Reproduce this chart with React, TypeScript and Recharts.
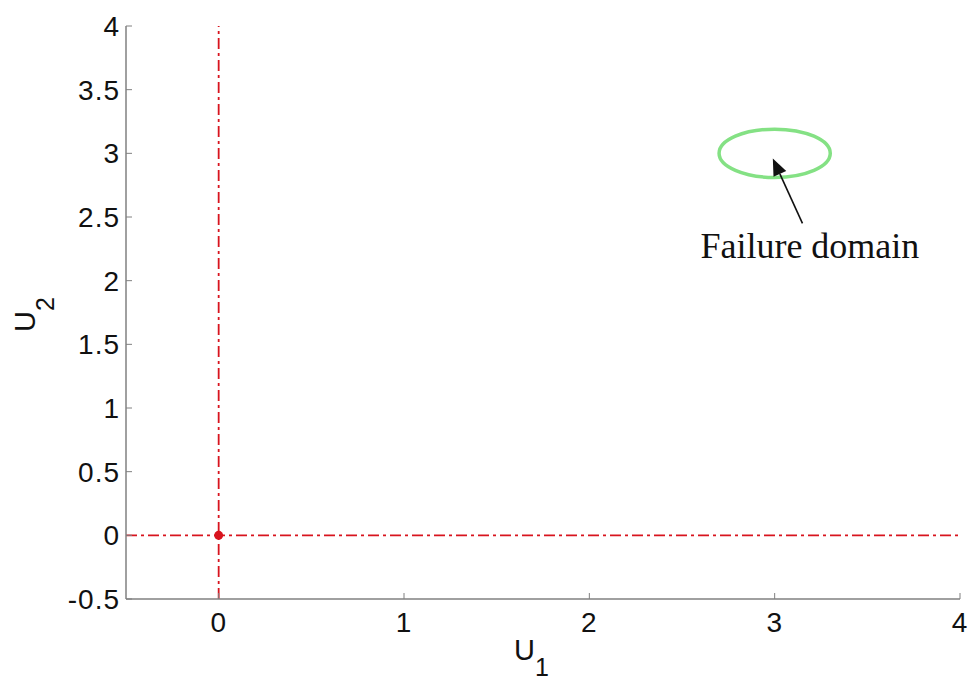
import {
  ScatterChart,
  Scatter,
  XAxis,
  YAxis,
  ReferenceLine,
  ReferenceArea,
  ReferenceDot,
} from "recharts";

// axis ranges and ticks
const uRange: Array<number> = [-0.5, 4];
const u1Ticks: Array<number> = [0, 1, 2, 3, 4];
const u2Ticks: Array<number> = [-0.5, 0, 0.5, 1, 1.5, 2, 2.5, 3, 3.5, 4];

// origin of the standard normal space
const origin = [{ x: 0, y: 0 }];

// failure domain: ellipse centre and half-widths
const failureCenter: Array<number> = [3, 3];
const failureHalf: Array<number> = [0.3, 0.19];

// annotation arrow (tail -> tip) and its caption
const arrowFrom = { x: 3.15, y: 2.45 };
const arrowTo = { x: 2.99, y: 2.96 };
const captionAt = { x: 3.19, y: 2.18 };
const captionText = "Failure domain";

const boxColor = "#808080";
const axisRed = "#d8141e";
const tickFont = "Arial, 'Liberation Sans', Helvetica, sans-serif";

const BottomTick = (props: any) => {
  const { x, y, payload } = props;
  return (
    <g>
      <line x1={x} x2={x} y1={y} y2={y - 6} stroke={boxColor} />
      <text
        x={x}
        y={y + 33}
        textAnchor="middle"
        fontSize={28}
        letterSpacing={1}
        fontFamily={tickFont}
        fill="#111"
      >
        {String(payload.value)}
      </text>
    </g>
  );
};

const LeftTick = (props: any) => {
  const { x, y, payload } = props;
  return (
    <g>
      <line x1={x} x2={x + 6} y1={y} y2={y} stroke={boxColor} />
      <text
        x={x - 6}
        y={y + 10}
        textAnchor="end"
        fontSize={28}
        letterSpacing={1}
        fontFamily={tickFont}
        fill="#111"
      >
        {String(payload.value)}
      </text>
    </g>
  );
};

const TopTick = (props: any) => {
  const { x, y } = props;
  return <line x1={x} x2={x} y1={y} y2={y + 6} stroke={boxColor} />;
};

const RightTick = (props: any) => {
  const { x, y } = props;
  return <line x1={x} x2={x - 6} y1={y} y2={y} stroke={boxColor} />;
};

const U1Label = (props: any) => {
  const vb = props.viewBox;
  return (
    <text
      x={vb.x + vb.width / 2 - 29}
      y={vb.y + 61}
      fontSize={29}
      fontFamily={tickFont}
      fill="#111"
    >
      U
      <tspan dy={16} fontSize={25}>
        1
      </tspan>
    </text>
  );
};

const U2Label = () => (
  <text
    x={35}
    y={332}
    transform="rotate(-90, 35, 332)"
    fontSize={29}
    fontFamily={tickFont}
    fill="#111"
  >
    U
    <tspan dy={19} fontSize={25}>
      2
    </tspan>
  </text>
);

const FailureEllipse = (props: any) => {
  const { x, y, width, height } = props;
  return (
    <ellipse
      cx={x + width / 2}
      cy={y + height / 2}
      rx={Math.abs(width) / 2}
      ry={Math.abs(height) / 2}
      fill="none"
      stroke="#84e184"
      strokeWidth={3.5}
    />
  );
};

const Arrow = (props: any) => {
  const { x1, y1, x2, y2 } = props;
  const ang = Math.atan2(y2 - y1, x2 - x1);
  const len = 17;
  const half = 7;
  const bx = x2 - len * Math.cos(ang);
  const by = y2 - len * Math.sin(ang);
  const px = -Math.sin(ang) * half;
  const py = Math.cos(ang) * half;
  return (
    <g>
      <line x1={x1} y1={y1} x2={bx} y2={by} stroke="#111" strokeWidth={1.6} />
      <polygon
        points={`${x2},${y2} ${bx + px},${by + py} ${bx - px},${by - py}`}
        fill="#111"
      />
    </g>
  );
};

const Caption = (props: any) => {
  const { cx, cy } = props;
  return (
    <text
      x={cx}
      y={cy}
      textAnchor="middle"
      fontSize={36}
      fontFamily="'Liberation Serif', 'Times New Roman', serif"
      fill="#111"
    >
      {captionText}
    </text>
  );
};

const OriginDot = (props: any) => {
  const { cx, cy } = props;
  return <circle cx={cx} cy={cy} r={4.5} fill={axisRed} />;
};

const App = () => {
  return (
    <div style={{ position: "absolute", left: 0, top: 0, background: "#fff" }}>
      <ScatterChart
        width={969}
        height={683}
        margin={{ top: 26, right: 9, bottom: 0, left: 0 }}
      >
        <XAxis
          dataKey="x"
          type="number"
          domain={uRange}
          ticks={u1Ticks}
          allowDataOverflow
          height={84}
          interval={0}
          tickSize={0}
          tickMargin={0}
          tickLine={false}
          stroke={boxColor}
          strokeWidth={1.5}
          tick={<BottomTick />}
          label={{ content: <U1Label /> }}
        />
        <XAxis
          xAxisId="top"
          orientation="top"
          type="number"
          domain={uRange}
          ticks={u1Ticks}
          allowDataOverflow
          height={0}
          interval={0}
          tickSize={0}
          tickMargin={0}
          tickLine={false}
          stroke={boxColor}
          strokeWidth={1.5}
          tick={<TopTick />}
        />
        <YAxis
          dataKey="y"
          type="number"
          domain={uRange}
          ticks={u2Ticks}
          allowDataOverflow
          width={126}
          interval={0}
          tickSize={0}
          tickMargin={0}
          tickLine={false}
          stroke={boxColor}
          strokeWidth={1.5}
          tick={<LeftTick />}
          label={{ content: <U2Label /> }}
        />
        <YAxis
          yAxisId="right"
          orientation="right"
          type="number"
          domain={uRange}
          ticks={u2Ticks}
          allowDataOverflow
          width={0}
          interval={0}
          tickSize={0}
          tickMargin={0}
          tickLine={false}
          stroke={boxColor}
          strokeWidth={1.5}
          tick={<RightTick />}
        />

        <ReferenceLine
          x={0}
          stroke={axisRed}
          strokeWidth={1.8}
          strokeDasharray="11 4 3 4"
        />
        <ReferenceLine
          y={0}
          stroke={axisRed}
          strokeWidth={1.8}
          strokeDasharray="11 4 3 4"
        />

        <ReferenceArea
          x1={failureCenter[0] - failureHalf[0]}
          x2={failureCenter[0] + failureHalf[0]}
          y1={failureCenter[1] - failureHalf[1]}
          y2={failureCenter[1] + failureHalf[1]}
          shape={<FailureEllipse />}
        />

        <ReferenceLine
          segment={[arrowFrom, arrowTo]}
          shape={<Arrow />}
        />
        <ReferenceDot
          x={captionAt.x}
          y={captionAt.y}
          r={0}
          shape={<Caption />}
        />

        <Scatter
          data={origin}
          shape={<OriginDot />}
          isAnimationActive={false}
        />
      </ScatterChart>
    </div>
  );
};

export default App;
